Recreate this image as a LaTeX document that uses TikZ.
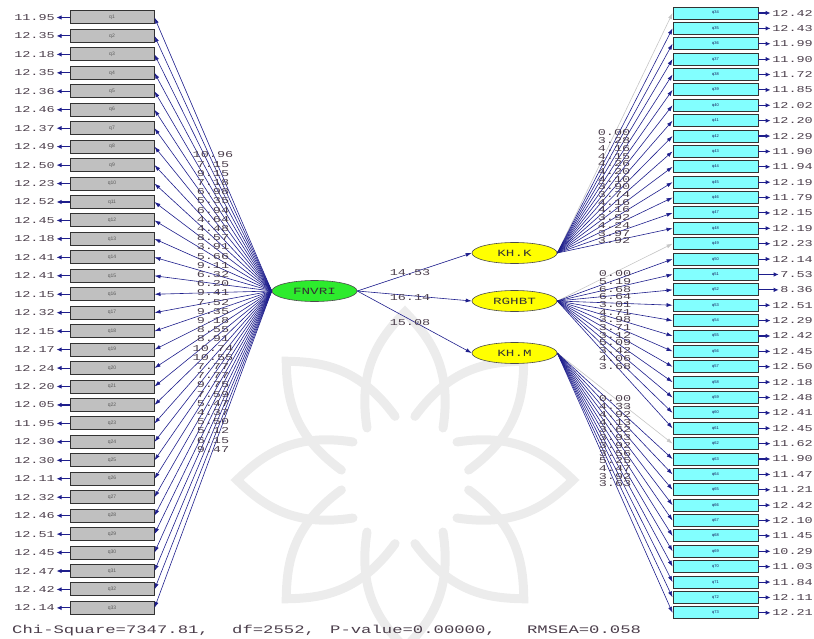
\documentclass[tikz,border=0pt]{standalone}
\usepackage{fontspec}
\setmainfont{Liberation Sans}
\newfontfamily\lisfont[FakeStretch=1.5]{Liberation Mono}
\usetikzlibrary{arrows.meta,shapes.geometric}
\definecolor{navy}{RGB}{30,30,140}
\definecolor{numcol}{RGB}{75,62,75}
\definecolor{boxgray}{RGB}{192,192,192}
\definecolor{boxcyan}{RGB}{130,255,255}
\definecolor{latgreen}{RGB}{45,235,45}
\definecolor{latyellow}{RGB}{255,255,0}
\definecolor{wmark}{RGB}{236,236,236}
\begin{document}
\begin{tikzpicture}[x=1pt,y=-1pt,
  obsL/.style={draw=black!80, line width=1pt, fill=boxgray, minimum width=84pt, minimum height=13pt, inner sep=0pt, font=\fontsize{5}{5}\selectfont, text=black!65},
  obsR/.style={draw=black!80, line width=0.9pt, fill=boxcyan, minimum width=85pt, minimum height=12pt, inner sep=0pt, font=\fontsize{4}{4}\selectfont, text=navy!60!black},
  lat/.style={ellipse, draw=black!70, line width=0.6pt, minimum width=85pt, minimum height=21pt, inner sep=0pt, font=\lisfont\fontsize{9.5}{9.5}\selectfont, text=black!80},
  val/.style={inner sep=0pt, font=\lisfont\fontsize{9}{9}\selectfont, text=numcol},
  load/.style={navy, line width=0.6pt, -{Latex[length=6pt,width=4pt]}},
  fixed/.style={gray!45, line width=0.6pt, -{Latex[length=6pt,width=4pt]}},
  err/.style={navy, line width=1.1pt, -{Latex[length=5pt,width=4.5pt]}},
  fitst/.style={inner sep=0pt, anchor=west, font=\lisfont\fontsize{11.5}{11.5}\selectfont, text=numcol},
  petal/.style={draw=wmark, line width=9pt, line cap=round},
]
\useasboundingbox (0,0) rectangle (814,639);
\begin{scope}
\clip (0,0) rectangle (814,639);
% faint watermark rosette
\foreach \a in {0,45,...,315} {
  \begin{scope}[shift={(405,480)}, rotate=\a]
    \draw[petal] (-38,-52) .. controls (-48,-115) and (-22,-145) .. (0,-168) .. controls (22,-145) and (48,-115) .. (38,-52);
  \end{scope}
}
\end{scope}

% left observed variables with error variances
\foreach \ev [count=\i] in {11.95,12.35,12.18,12.35,12.36,12.46,12.37,12.49,12.50,12.23,12.52,12.45,12.18,12.41,12.41,12.15,12.32,12.15,12.17,12.24,12.20,12.05,11.95,12.30,12.30,12.11,12.32,12.46,12.51,12.45,12.47,12.42,12.14} {
  \pgfmathsetmacro\yy{17.5+(\i-1)*18.45}
  \node[obsL] (q\i) at (112,\yy) {q\i};
  \node[val, anchor=east] (e\i) at (55,\yy) {\ev};
  \draw[err] (q\i.west) -- ([xshift=1.5pt]e\i.east);
}

% right observed variables with error variances
\foreach \ev [count=\k from 34] in {12.42,12.43,11.99,11.90,11.72,11.85,12.02,12.20,12.29,11.90,11.94,12.19,11.79,12.15,12.19,12.23,12.14,7.53,8.36,12.51,12.29,12.42,12.45,12.50,12.18,12.48,12.41,12.45,11.62,11.90,11.47,11.21,12.42,12.10,11.45,10.29,11.03,11.84,12.11,12.21} {
  \pgfmathsetmacro\yy{13+(\k-34)*15.38}
  \node[obsR] (q\k) at (715.5,\yy) {q\k};
  \node[val, anchor=east] (e\k) at (813,\yy) {\ev};
  \draw[err] (q\k.east) -- ([xshift=-1.5pt]e\k.west);
}

% latent variables
\node[lat, fill=latgreen] (F) at (314.5,291) {FNVRI};
\node[lat, fill=latyellow] (KK) at (514.5,253) {KH.K};
\node[lat, fill=latyellow] (RG) at (514.5,301) {RGHBT};
\node[lat, fill=latyellow] (KM) at (514.5,353) {KH.M};

% FNVRI loadings
\foreach \lv [count=\i] in {10.96,7.15,9.15,7.18,6.98,5.35,6.94,4.64,4.48,8.57,3.91,5.66,9.11,6.32,6.20,9.41,7.52,9.35,9.18,8.55,8.91,10.74,10.55,7.77,7.77,9.75,7.59,5.47,4.37,5.50,5.12,6.15,9.47} {
  \draw[load] (F.west) -- (q\i.east);
}
\foreach \lv [count=\i] in {10.96,7.15,9.15,7.18,6.98,5.35,6.94,4.64,4.48,8.57,3.91,5.66,9.11,6.32,6.20,9.41,7.52,9.35,9.18,8.55,8.91,10.74,10.55,7.77,7.77,9.75,7.59,5.47,4.37,5.50,5.12,6.15,9.47} {
  \node[val] (tl\i) at (213,{155+(\i-1)*9.2}) {\lv};
}

% KH.K loadings (q34-q48)
\foreach \lv [count=\k from 0] in {0.00,3.28,4.16,4.15,4.26,4.20,4.10,3.90,3.74,4.16,4.16,3.92,4.24,3.97,3.92} {
  \pgfmathtruncatemacro\j{34+\k}
  \ifnum\k=0 \draw[fixed] (KK.east) -- (q\j.west); \else \draw[load] (KK.east) -- (q\j.west); \fi
}
\foreach \lv [count=\k from 0] in {0.00,3.28,4.16,4.15,4.26,4.20,4.10,3.90,3.74,4.16,4.16,3.92,4.24,3.97,3.92} {
  \pgfmathtruncatemacro\j{34+\k}
  \node[val] (tk\j) at (614,{133+\k*7.7}) {\lv};
}

% RGHBT loadings (q49-q61)
\foreach \lv [count=\k from 0] in {0.00,5.19,6.68,6.64,3.01,4.71,3.98,3.71,3.12,5.09,3.42,4.06,3.68} {
  \pgfmathtruncatemacro\j{49+\k}
  \ifnum\k=0 \draw[fixed] (RG.east) -- (q\j.west); \else \draw[load] (RG.east) -- (q\j.west); \fi
}
\foreach \lv [count=\k from 0] in {0.00,5.19,6.68,6.64,3.01,4.71,3.98,3.71,3.12,5.09,3.42,4.06,3.68} {
  \pgfmathtruncatemacro\j{49+\k}
  \node[val] (tk\j) at (615,{274+\k*7.67}) {\lv};
}

% KH.M loadings (q62-q73)
\foreach \lv [count=\k from 0] in {0.00,4.33,4.92,4.13,3.62,3.93,3.92,3.56,5.25,4.47,3.92,3.63} {
  \pgfmathtruncatemacro\j{62+\k}
  \ifnum\k=0 \draw[fixed] (KM.east) -- (q\j.west); \else \draw[load] (KM.east) -- (q\j.west); \fi
}
\foreach \lv [count=\k from 0] in {0.00,4.33,4.92,4.13,3.62,3.93,3.92,3.56,5.25,4.47,3.92,3.63} {
  \pgfmathtruncatemacro\j{62+\k}
  \node[val] (tk\j) at (615,{399+\k*7.73}) {\lv};
}

% structural paths
\draw[load] (F.east) -- (KK.west);
\draw[load] (F.east) -- (RG.west);
\draw[load] (F.east) -- (KM.west);
\node[val] (s1) at (410,273) {14.53};
\node[val] (s2) at (410,298) {16.14};
\node[val] (s3) at (410,323) {15.08};

% fit statistics
\node[fitst] (fitline) at (12,631) {\makebox[220pt][l]{Chi-Square=7347.81,}\makebox[98pt][l]{df=2552,}\makebox[197pt][l]{P-value=0.00000,}RMSEA=0.058};
\end{tikzpicture}
\end{document}
